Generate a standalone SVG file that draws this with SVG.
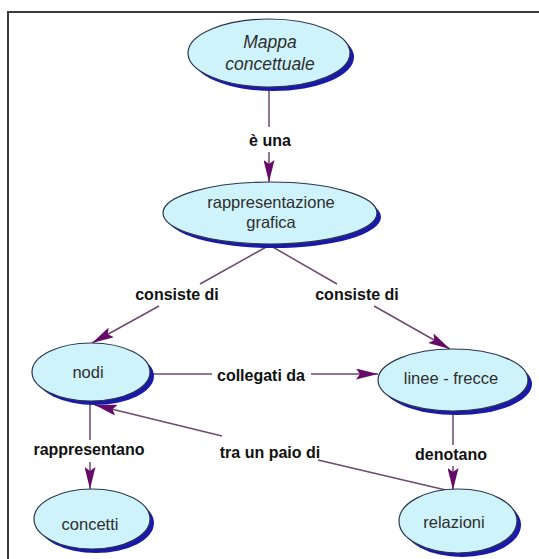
<svg xmlns="http://www.w3.org/2000/svg" width="539" height="559" viewBox="0 0 539 559">
<defs>
<style>
.shadow{fill:#1a1aa8}
.node{fill:#cff3fa;stroke:#2d3552;stroke-width:1.2}
.nt{font-family:"Liberation Sans",Arial,sans-serif;font-size:16.5px;fill:#2e2e2e;text-anchor:middle}
.it{font-style:italic;font-size:17.5px}
.lb{font-family:"Liberation Sans",Arial,sans-serif;font-size:16px;font-weight:bold;fill:#111;text-anchor:middle}
.ln{fill:none;stroke:#6e4a6e;stroke-width:1.5}
</style>
<marker id="arr" viewBox="0 0 22 11" refX="22" refY="5.5" markerWidth="22" markerHeight="11" markerUnits="userSpaceOnUse" orient="auto">
<path d="M0,0 L22,5.5 L0,11 L4,5.5 Z" fill="#660a6a"/>
</marker>
</defs>
<rect width="539" height="559" fill="#fff"/>
<rect x="8" y="12" width="560" height="560" fill="none" stroke="#3a3a3a" stroke-width="2"/>

<g id="connectors">
<path class="ln" d="M269,88 L269,127 M269,152 L269,182" marker-end="url(#arr)"/>
<path class="ln" d="M268,246 L200,284 M159,306 L92,343" marker-end="url(#arr)"/>
<path class="ln" d="M271,246 L337,284 M374,306 L450,349" marker-end="url(#arr)"/>
<path class="ln" d="M150,374 L212,374 M311,374 L378,374" marker-end="url(#arr)"/>
<path class="ln" d="M90,401 L90,440 M90,462 L90,489" marker-end="url(#arr)"/>
<path class="ln" d="M453,411 L453,445 M453,466 L453,490" marker-end="url(#arr)"/>
<path class="ln" d="M450,491 L318,460 M222,436 L95,405" marker-end="url(#arr)"/>
<text class="lb" x="270" y="146">è una</text>
<text class="lb" x="177" y="300">consiste di</text>
<text class="lb" x="357" y="300">consiste di</text>
<text class="lb" x="261" y="381">collegati da</text>
<text class="lb" x="89" y="455">rappresentano</text>
<text class="lb" x="270" y="458">tra un paio di</text>
<text class="lb" x="451" y="460">denotano</text>
</g>

<g id="mappa">
<ellipse class="shadow" cx="273" cy="57" rx="81" ry="34"/>
<ellipse class="node" cx="269" cy="53" rx="81" ry="34"/>
<text class="nt it" x="270" y="48">Mappa</text>
<text class="nt it" x="270" y="70">concettuale</text>
</g>

<g id="rappresentazione">
<ellipse class="shadow" cx="274" cy="217" rx="107" ry="31"/>
<ellipse class="node" cx="270" cy="213" rx="107" ry="31"/>
<text class="nt" x="271" y="208">rappresentazione</text>
<text class="nt" x="271" y="228">grafica</text>
</g>

<g id="nodi">
<ellipse class="shadow" cx="95" cy="376" rx="59" ry="29"/>
<ellipse class="node" cx="91" cy="372" rx="59" ry="29"/>
<text class="nt" x="88" y="378">nodi</text>
</g>

<g id="linee">
<ellipse class="shadow" cx="457" cy="384" rx="75" ry="31"/>
<ellipse class="node" cx="453" cy="380" rx="75" ry="31"/>
<text class="nt" x="451" y="384">linee - frecce</text>
</g>

<g id="concetti">
<ellipse class="shadow" cx="96" cy="523" rx="58" ry="30"/>
<ellipse class="node" cx="92" cy="519" rx="58" ry="30"/>
<text class="nt" x="90" y="530">concetti</text>
</g>

<g id="relazioni">
<ellipse class="shadow" cx="462" cy="525" rx="59" ry="32"/>
<ellipse class="node" cx="458" cy="521" rx="59" ry="32"/>
<text class="nt" x="454" y="528">relazioni</text>
</g>
</svg>
